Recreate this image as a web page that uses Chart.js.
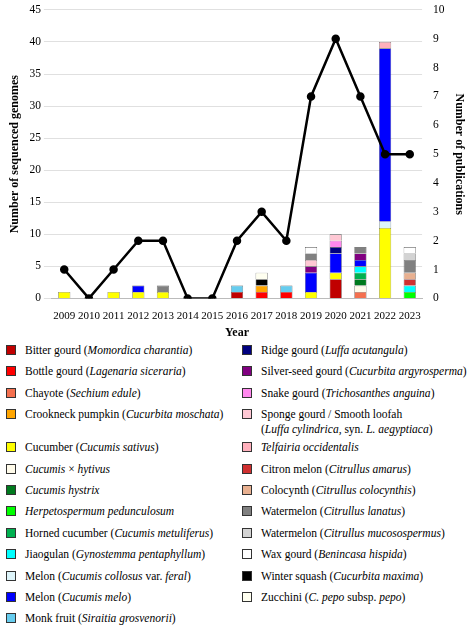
<!DOCTYPE html>
<html><head><meta charset="utf-8">
<script src="https://cdn.jsdelivr.net/npm/chart.js@4"></script>
<style>
body{margin:0;background:#fff;font-family:"Liberation Serif",serif;}
#wrap{width:474px;height:340px;position:relative}
#leg{display:grid;grid-template-columns:236px 236px;grid-auto-rows:minmax(21.4px,auto);padding-left:6px;margin-top:0px;font-size:11.5px;color:#000}
.it{display:flex;align-items:flex-start;padding-top:3px;box-sizing:border-box;line-height:15px}
.sw{width:10px;height:10px;border:1px solid #333;margin-right:9px;margin-top:2px;flex:none;box-sizing:border-box}
</style></head><body>
<div id="wrap"><canvas id="c"></canvas></div>
<div id="leg"></div>
<script>
const years=['2009','2010','2011','2012','2013','2014','2015','2016','2017','2018','2019','2020','2021','2022','2023'];
const publications=[1,0,1,2,2,0,0,2,3,2,7,9,7,5,5];
const speciesNames=['Bitter gourd (<i>Momordica charantia</i>)','Bottle gourd (<i>Lagenaria siceraria</i>)','Chayote (<i>Sechium edule</i>)','Crookneck pumpkin (<i>Cucurbita moschata</i>)','Cucumber (<i>Cucumis sativus</i>)','<i>Cucumis</i> × <i>hytivus</i>','<i>Cucumis hystrix</i>','<i>Herpetospermum pedunculosum</i>','Horned cucumber (<i>Cucumis metuliferus</i>)','Jiaogulan (<i>Gynostemma pentaphyllum</i>)','Melon (<i>Cucumis collosus</i> var. <i>feral</i>)','Melon (<i>Cucumis melo</i>)','Monk fruit (<i>Siraitia grosvenorii</i>)',
'Ridge gourd (<i>Luffa acutangula</i>)','Silver-seed gourd (<i>Cucurbita argyrosperma</i>)','Snake gourd (<i>Trichosanthes anguina</i>)','Sponge gourd / Smooth loofah<br>(<i>Luffa cylindrica,</i> syn. <i>L. aegyptiaca</i>)','<i>Telfairia occidentalis</i>','Citron melon (<i>Citrullus amarus</i>)','Colocynth (<i>Citrullus colocynthis</i>)','Watermelon (<i>Citrullus lanatus</i>)','Watermelon (<i>Citrullus mucosospermus</i>)','Wax gourd (<i>Benincasa hispida</i>)','Winter squash (<i>Cucurbita maxima</i>)','Zucchini (<i>C. pepo</i> subsp. <i>pepo</i>)'];
const speciesColors=['#C00000','#FF0000','#F4704F','#FFA500','#FFFF00','#FFFBEA','#007A1E','#00FF00','#00B050','#00FFFF','#DDF4FA','#0000FF','#66CCEE','#000080','#800080','#FF88EE','#FFC8D4','#FFB0BC','#D03030','#E8B090','#808080','#D3D3D3','#FFFFFF','#000000','#FFFFF0'];
const genomes=[
[0,0,0,0,0,0,0,1,0,0,0,3,0,0,0],
[0,0,0,0,0,0,0,0,1,1,0,0,0,0,0],
[0,0,0,0,0,0,0,0,0,0,0,0,1,0,0],
[0,0,0,0,0,0,0,0,1,0,0,0,0,0,0],
[1,0,1,1,1,0,0,0,0,0,1,1,0,11,0],
[0,0,0,0,0,0,0,0,0,0,0,0,1,0,0],
[0,0,0,0,0,0,0,0,0,0,0,0,1,0,0],
[0,0,0,0,0,0,0,0,0,0,0,0,0,0,1],
[0,0,0,0,0,0,0,0,0,0,0,0,1,0,0],
[0,0,0,0,0,0,0,0,0,0,0,0,1,0,1],
[0,0,0,0,0,0,0,0,0,0,0,0,0,1,0],
[0,0,0,1,0,0,0,0,0,0,3,3,1,27,0],
[0,0,0,0,0,0,0,1,0,1,0,0,0,0,0],
[0,0,0,0,0,0,0,0,0,0,0,1,0,0,0],
[0,0,0,0,0,0,0,0,0,0,1,0,1,0,0],
[0,0,0,0,0,0,0,0,0,0,0,1,0,0,0],
[0,0,0,0,0,0,0,0,0,0,1,1,0,0,0],
[0,0,0,0,0,0,0,0,0,0,0,0,0,1,0],
[0,0,0,0,0,0,0,0,0,0,0,0,0,0,1],
[0,0,0,0,0,0,0,0,0,0,0,0,0,0,1],
[0,0,0,0,1,0,0,0,0,0,1,0,1,0,2],
[0,0,0,0,0,0,0,0,0,0,0,0,0,0,1],
[0,0,0,0,0,0,0,0,0,0,1,0,0,0,1],
[0,0,0,0,0,0,0,0,1,0,0,0,0,0,0],
[0,0,0,0,0,0,0,0,1,0,0,0,0,0,0]];
const F='"Liberation Serif",serif';
const ds=[{type:'line',label:'Publications',data:publications,yAxisID:'y1',borderColor:'#000',backgroundColor:'#000',borderWidth:2.5,pointRadius:3,tension:0,order:0}];
genomes.forEach((g,i)=>ds.push({type:'bar',label:speciesNames[i],data:g,backgroundColor:speciesColors[i],borderColor:'#555',borderWidth:0.6,yAxisID:'y',stack:'s',barPercentage:0.55,categoryPercentage:0.9,order:1}));
new Chart(document.getElementById('c'),{data:{labels:years,datasets:ds},options:{responsive:true,maintainAspectRatio:false,animation:false,
layout:{padding:{top:6,right:4,left:4}},
plugins:{legend:{display:false},tooltip:{enabled:false}},
scales:{x:{stacked:true,grid:{display:false},border:{color:'#bbb'},ticks:{color:'#000',font:{family:F,size:11},maxRotation:0,autoSkip:false},title:{display:true,text:'Year',color:'#000',font:{family:F,size:12,weight:'bold'},padding:0}},
y:{stacked:true,min:0,max:45,ticks:{stepSize:5,color:'#000',font:{family:F,size:11.5}},grid:{color:'#e0e0e0'},border:{display:false},title:{display:true,text:'Number of sequenced genomes',color:'#000',font:{family:F,size:12,weight:'bold'}}},
y1:{position:'right',min:0,max:10,ticks:{stepSize:1,color:'#000',font:{family:F,size:11.5}},grid:{display:false},border:{display:false},title:{display:true,text:'Number of publications',color:'#000',font:{family:F,size:12,weight:'bold'}}}}}});
const leg=document.getElementById('leg');
const half=13;
for(let r=0;r<half;r++){for(const i of [r,r+half]){const d=document.createElement('div');d.className='it';const k=i<half?i:i-0;if(i<speciesNames.length){d.innerHTML='<span class="sw" style="background:'+speciesColors[i]+'"></span><span>'+speciesNames[i]+'</span>';}leg.appendChild(d);}}
</script></body></html>
